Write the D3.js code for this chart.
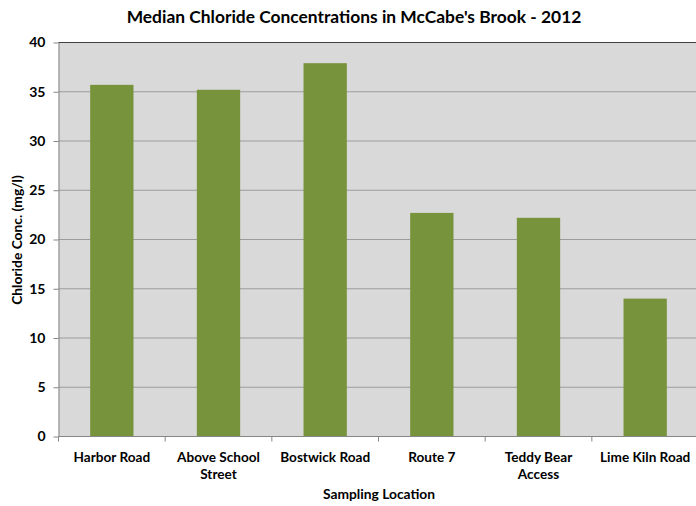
<!DOCTYPE html>
<html>
<head>
<meta charset="utf-8">
<script src="https://cdn.jsdelivr.net/npm/d3@7/dist/d3.min.js"></script>
<style>
  html, body { margin: 0; padding: 0; background: #fff; }
  svg { display: block; }
  text { font-family: Lato, "Open Sans", sans-serif; font-weight: bold; fill: #000; }
</style>
</head>
<body>
<svg id="chart" width="696" height="506"></svg>
<script>
// Median chloride by sampling site, 2012
const locations = ["Harbor Road", "Above School Street", "Bostwick Road", "Route 7", "Teddy Bear Access", "Lime Kiln Road"];
const locationLines = [["Harbor Road"], ["Above School", "Street"], ["Bostwick Road"], ["Route 7"], ["Teddy Bear", "Access"], ["Lime Kiln Road"]];
const medianChloride = [35.7, 35.2, 37.9, 22.7, 22.2, 14.0];
const yTicks = [0, 5, 10, 15, 20, 25, 30, 35, 40];

const svg = d3.select("#chart");
const plot = { left: 58.5, top: 42.5, right: 698.5, bottom: 436.5 };

const x = d3.scaleBand()
  .domain(locations)
  .range([plot.left, plot.right])
  .paddingInner(0.594)
  .paddingOuter(0.297);

const y = d3.scaleLinear().domain([0, 40]).range([plot.bottom, plot.top]);

// plot background
svg.append("rect")
  .attr("x", plot.left).attr("y", plot.top)
  .attr("width", plot.right - plot.left).attr("height", plot.bottom - plot.top)
  .attr("fill", "#d9d9d9");

// horizontal gridlines
svg.append("g")
  .selectAll("line")
  .data(yTicks.filter(t => t > 0 && t < 40))
  .join("line")
  .attr("x1", plot.left).attr("x2", plot.right)
  .attr("y1", d => y(d)).attr("y2", d => y(d))
  .attr("stroke", "#9c9c9c").attr("stroke-width", 1);

// top border of plot area
svg.append("line")
  .attr("x1", plot.left).attr("x2", plot.right)
  .attr("y1", plot.top).attr("y2", plot.top)
  .attr("stroke", "#404040").attr("stroke-width", 1);

// bars
svg.append("g")
  .selectAll("rect")
  .data(medianChloride)
  .join("rect")
  .attr("x", (d, i) => x(locations[i]))
  .attr("width", x.bandwidth())
  .attr("y", d => y(d))
  .attr("height", d => y(0) - y(d))
  .attr("fill", "#77933c");

// y axis
const yAxis = svg.append("g")
  .attr("transform", `translate(${plot.left},0)`)
  .call(d3.axisLeft(y).tickValues(yTicks).tickSize(5).tickPadding(8).tickSizeOuter(0));
yAxis.select(".domain").attr("stroke", "#868686");
yAxis.selectAll(".tick line").attr("stroke", "#868686");
yAxis.selectAll(".tick text")
  .attr("font-size", 14).attr("font-family", "Lato, sans-serif").attr("font-weight", "bold").attr("fill", "#000");

// x axis with tick marks at band boundaries
const xAxisG = svg.append("g").attr("transform", `translate(0,${plot.bottom})`);
xAxisG.append("line")
  .attr("x1", plot.left).attr("x2", plot.right)
  .attr("y1", 0).attr("y2", 0)
  .attr("stroke", "#868686");
const step = x.step();
const boundaries = d3.range(locations.length + 1).map(i => plot.left + i * step);
xAxisG.selectAll("line.tick")
  .data(boundaries)
  .join("line")
  .attr("class", "tick")
  .attr("x1", d => d).attr("x2", d => d)
  .attr("y1", 0).attr("y2", 5)
  .attr("stroke", "#868686");

// category labels
const labels = xAxisG.selectAll("text.cat")
  .data(locations)
  .join("text")
  .attr("class", "cat")
  .attr("text-anchor", "middle")
  .attr("font-size", 13.6)
  .attr("x", d => x(d) + x.bandwidth() / 2)
  .attr("y", 25);
labels.each(function(d, i) {
  const t = d3.select(this);
  locationLines[i].forEach((line, j) => {
    t.append("tspan")
      .attr("x", x(d) + x.bandwidth() / 2)
      .attr("dy", j === 0 ? 0 : 17)
      .text(line);
  });
});

// title
svg.append("text")
  .attr("x", 354).attr("y", 23)
  .attr("text-anchor", "middle")
  .attr("font-size", 17.4)
  .text("Median Chloride Concentrations in McCabe's Brook - 2012");

// y axis title
svg.append("text")
  .attr("transform", `translate(22,240) rotate(-90)`)
  .attr("text-anchor", "middle")
  .attr("font-size", 13.8)
  .text("Chloride Conc. (mg/l)");

// x axis title
svg.append("text")
  .attr("x", 379).attr("y", 499)
  .attr("text-anchor", "middle")
  .attr("font-size", 13.8)
  .text("Sampling Location");
</script>
</body>
</html>
